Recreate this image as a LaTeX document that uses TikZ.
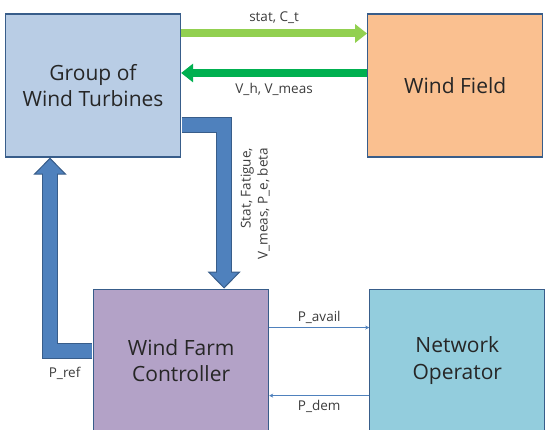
\documentclass[tikz,border=0pt]{standalone}
\usepackage{fontspec}
\setmainfont{Open Sans}
\usepackage{xcolor}
\usepackage{tikz}
\usetikzlibrary{arrows.meta, positioning, calc}

\definecolor{birumuda}{HTML}{B9CDE5}
\definecolor{oranye}{HTML}{FAC090}
\definecolor{ungu}{HTML}{B3A2C7}
\definecolor{tosca}{HTML}{93CDDD}
\definecolor{tepi}{HTML}{385D8A}
\definecolor{biru}{HTML}{4F81BD}
\definecolor{hijaumuda}{HTML}{92D050}
\definecolor{hijau}{HTML}{00B050}
\definecolor{teks}{HTML}{262626}

\begin{document}
\begin{tikzpicture}[
    node distance=131pt and 186pt,
    blok/.style={draw=tepi, line width=1.2pt, minimum width=175pt, minimum height=143pt,
                 align=center, inner sep=0pt, text=teks, font=\fontsize{21}{26.5}\selectfont},
    ket/.style={font=\fontsize{13.5}{17}\selectfont, text=teks!90, inner sep=1pt},
    panahhijau/.style={draw=#1, line width=8pt, -{Triangle[width=18pt,length=12pt]}},
    panahtipis/.style={draw=biru, line width=1pt, -{Stealth[length=4pt,width=4pt]}},
    blokluar/.style={draw=tepi, line width=16pt, line join=miter, shorten <=0.6pt,
                     -{Triangle[width=33pt,length=17pt,line width=1pt,fill=biru]}},
    blokdalam/.style={draw=biru, line width=14pt, line join=miter, shorten <=0.6pt, shorten >=15pt}
  ]
    \useasboundingbox (0pt,0pt) rectangle (548pt,-430pt);
    \node[blok, fill=birumuda] (gwt) at (93pt,-85.5pt) {Group of\\Wind Turbines};
    \node[blok, fill=oranye, right=of gwt] (wf) {Wind Field};
    \node[blok, fill=ungu, below right=131pt and 0pt of gwt.south] (wfc) {Wind Farm\\Controller};
    \node[blok, fill=tosca, right=100pt of wfc] (no) {Network\\Operator};

    \draw[panahhijau=hijaumuda] ([yshift=52pt]gwt.east) -- ([yshift=52pt]wf.west)
      node[midway, above=5pt, ket] (lstat) {stat, C\_t};
    \draw[panahhijau=hijau] ([yshift=12.5pt]wf.west) -- ([yshift=12.5pt]gwt.east)
      node[midway, below=5pt, ket] (lvh) {V\_h, V\_meas};

    \draw[blokluar] ([yshift=-40pt]gwt.east) -| ([xshift=43pt]wfc.north);
    \draw[blokdalam] ([yshift=-40pt]gwt.east) -| ([xshift=43pt]wfc.north)
      node[pos=0.74, xshift=31pt, rotate=90, align=right, ket] (lfeed) {Stat, Fatigue,\\V\_meas, P\_e, beta};
    \draw[blokluar] ([yshift=-62pt]wfc.north west) -| ([xshift=-43pt]gwt.south);
    \draw[blokdalam] ([yshift=-62pt]wfc.north west) -| ([xshift=-43pt]gwt.south)
      node[pos=0.33, below=9pt, ket] (lpref) {P\_ref};

    \draw[panahtipis] ([yshift=-39pt]wfc.north east) -- ([yshift=-39pt]no.north west)
      node[midway, above=3pt, ket] (lavail) {P\_avail};
    \draw[panahtipis] ([yshift=-107pt]no.north west) -- ([yshift=-107pt]wfc.north east)
      node[midway, below=3pt, ket] (ldem) {P\_dem};
  \end{tikzpicture}
\end{document}
